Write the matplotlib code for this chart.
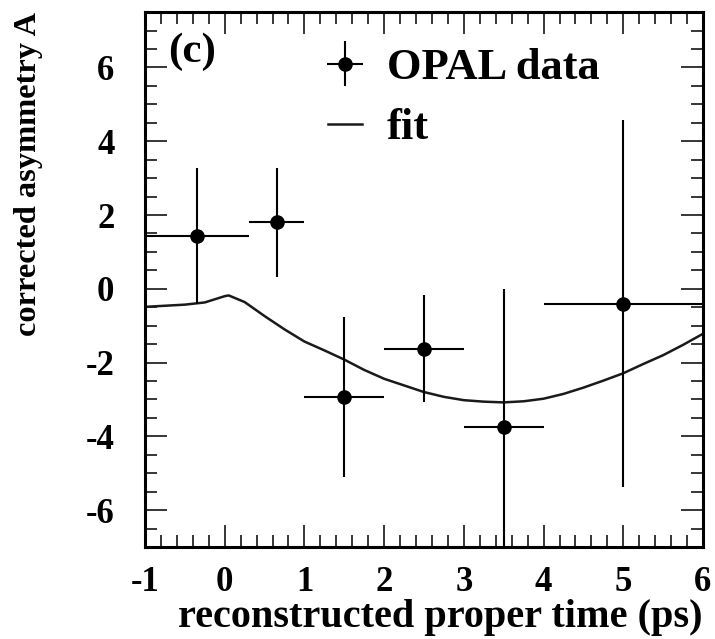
import matplotlib
matplotlib.use("Agg")
import matplotlib.pyplot as plt
from matplotlib.ticker import MultipleLocator
from matplotlib.legend_handler import HandlerErrorbar

# OPAL data points: bin centres, bin half-widths, asymmetry and errors
t_centre = [-0.35, 0.65, 1.5, 2.5, 3.5, 5.0]
t_lo = [0.65, 0.35, 0.5, 0.5, 0.5, 1.0]
t_hi = [0.65, 0.35, 0.5, 0.5, 0.5, 1.0]
asym = [1.43, 1.80, -2.94, -1.63, -3.74, -0.40]
asym_err = [1.85, 1.48, 2.17, 1.45, 3.74, 4.98]

# fitted curve
fit_t = [-1.0, -0.75, -0.5, -0.25, 0.0, 0.05, 0.25, 0.5, 0.75, 1.0, 1.25, 1.5,
         1.75, 2.0, 2.25, 2.5, 2.75, 3.0, 3.25, 3.5, 3.75, 4.0, 4.25, 4.5,
         4.75, 5.0, 5.25, 5.5, 5.75, 6.0]
fit_a = [-0.49, -0.46, -0.43, -0.37, -0.20, -0.18, -0.36, -0.74, -1.10, -1.43,
         -1.67, -1.92, -2.20, -2.44, -2.62, -2.80, -2.93, -3.02, -3.06, -3.08,
         -3.05, -2.98, -2.85, -2.68, -2.49, -2.29, -2.04, -1.80, -1.52, -1.22]

plt.rcParams["font.family"] = ["Liberation Serif", "DejaVu Serif"]
plt.rcParams["font.weight"] = "bold"
plt.rcParams["axes.unicode_minus"] = False

fig = plt.figure(figsize=(7.15, 6.39), dpi=100)
ax = fig.add_axes([0.2028, 0.144, 0.7804, 0.837])

ax.plot(fit_t, fit_a, color="#1a1a1a", lw=1.8, label="fit", zorder=2)
ax.errorbar(t_centre, asym, xerr=[t_lo, t_hi], yerr=asym_err, fmt="o",
            color="black", ms=9.5, elinewidth=1.5, capsize=0,
            label="OPAL data", zorder=3)

ax.set_xlim(-1, 6)
ax.set_ylim(-7, 7.5)
ax.xaxis.set_major_locator(MultipleLocator(1))
ax.xaxis.set_minor_locator(MultipleLocator(0.2))
ax.yaxis.set_major_locator(MultipleLocator(2))
ax.yaxis.set_minor_locator(MultipleLocator(0.5))
ax.tick_params(which="both", direction="in", top=True, right=True,
               width=1.1, labelsize=25)
ax.tick_params(which="major", length=16)
ax.tick_params(which="minor", length=8.5)
ax.tick_params(axis="x", which="major", pad=14)
ax.tick_params(axis="y", which="major", pad=22)
for s in ax.spines.values():
    s.set_linewidth(2.2)

for lab in ax.get_xticklabels() + ax.get_yticklabels():
    lab.set_fontweight("bold")

ax.set_xlabel("reconstructed proper time (ps)", fontsize=29,
              fontweight="bold", loc="right", labelpad=0)
ax.set_ylabel("corrected asymmetry A", fontsize=23.3, fontweight="bold",
              loc="top", labelpad=31)

ax.text(0.042, 0.925, "(c)", transform=ax.transAxes, fontsize=31,
        fontweight="bold", va="center", ha="left")

handles, labels = ax.get_legend_handles_labels()
order = [1, 0]
ax.legend([handles[i] for i in order], [labels[i] for i in order],
          loc="upper left", bbox_to_anchor=(0.296, 0.966), frameon=False,
          prop={"size": 32, "weight": "bold"}, handlelength=0.77,
          handletextpad=0.56, labelspacing=0.45, borderaxespad=0,
          handler_map={type(handles[1]): HandlerErrorbar(xerr_size=0.4,
                                                         yerr_size=0.5)})

fig.savefig("out.png", dpi=100)
